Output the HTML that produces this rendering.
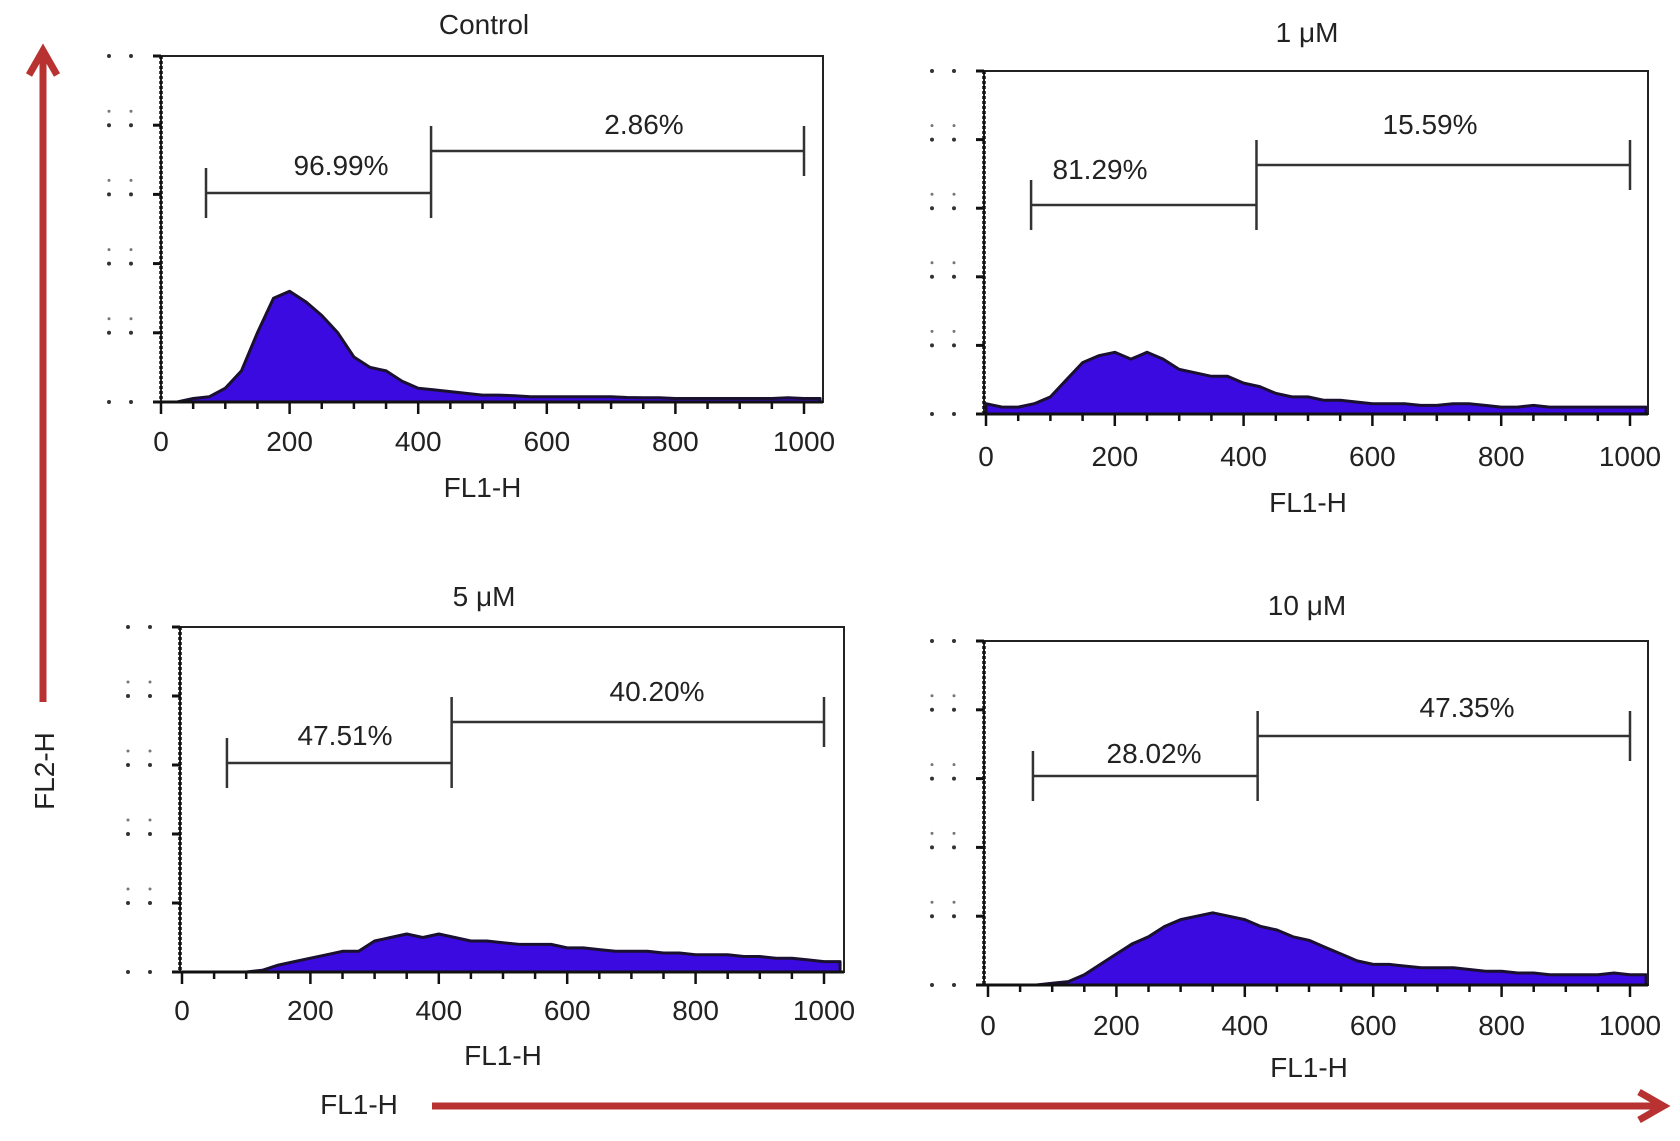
<!DOCTYPE html>
<html><head><meta charset="utf-8"><style>
html,body{margin:0;padding:0;background:#fff}
svg{display:block}
text{font-family:"Liberation Sans",sans-serif;fill:#222}
</style></head><body>
<svg id="chart" width="1680" height="1141" viewBox="0 0 1680 1141" xmlns="http://www.w3.org/2000/svg">
<defs>
<marker id="ah" viewBox="0 0 10 10" refX="7" refY="5" markerWidth="5" markerHeight="5" orient="auto"><path d="M1,1 L8,5 L1,9" fill="none" stroke="#b83232" stroke-width="2"/></marker>
</defs>
<line x1="43" y1="702" x2="43" y2="54" stroke="#b83232" stroke-width="7" marker-end="url(#ah)"/>
<line x1="432" y1="1106" x2="1660" y2="1106" stroke="#b83232" stroke-width="7" marker-end="url(#ah)"/>
<text transform="translate(54,771) rotate(-90)" text-anchor="middle" font-size="28">FL2-H</text>
<text x="359" y="1114" text-anchor="middle" font-size="28">FL1-H</text>
<g id="panels"></g>
</svg>
<script>
// bins: FL1-H channel 0..1025 step 25; values: % of plot height
const binStarts = [0,25,50,75,100,125,150,175,200,225,250,275,300,325,350,375,400,425,450,475,500,525,550,575,600,625,650,675,700,725,750,775,800,825,850,875,900,925,950,975,1000,1025];
const controlCounts = [0,0,1,1.5,4,9,20,30,32,29,25,20,13,10,9,6,4,3.5,3,2.5,2,2,1.8,1.5,1.5,1.5,1.5,1.5,1.5,1.3,1.2,1.2,1,1,1,1,1,1,1,1.2,1,1];
const uM1Counts = [3,2,2,3,5,10,15,17,18,16,18,16,13,12,11,11,9,8,6,5,5,4,4,3.5,3,3,3,2.5,2.5,3,3,2.5,2,2,2.5,2,2,2,2,2,2,2];
const uM5Counts = [0,0,0,0,0,0.5,2,3,4,5,6,6,9,10,11,10,11,10,9,9,8.5,8,8,8,7,7,6.5,6,6,6,5.5,5.5,5,5,5,4.5,4.5,4,4,3.5,3,3];
const uM10Counts = [0,0,0,0,0.5,1,3,6,9,12,14,17,19,20,21,20,19,17,16,14,13,11,9,7,6,6,5.5,5,5,5,4.5,4,4,3.5,3.5,3,3,3,3,3.5,3,3];
const panelTitles = ["Control","1 \u03bcM","5 \u03bcM","10 \u03bcM"];
const leftGateLabels = ["96.99%","81.29%","47.51%","28.02%"];
const rightGateLabels = ["2.86%","15.59%","40.20%","47.35%"];
const xTickLabels = ["0","200","400","600","800","1000"];
const xTickValues = [0,200,400,600,800,1000];
const gateStart = 70, gateSplit = 420, gateEnd = 1000;

const NS="http://www.w3.org/2000/svg";
const root=document.getElementById('panels');
function el(tag,attrs,parent){const e=document.createElementNS(NS,tag);for(const k in attrs)e.setAttribute(k,attrs[k]);(parent||root).appendChild(e);return e;}

const layout=[
 {L:161,R:823,T:56,B:402,x0:161,x1:804,title:[484,34],tick:451,lab:497,gl:193,gr:151,lt:[341,175],rt:[644,134]},
 {L:984,R:1648,T:71,B:414,x0:986,x1:1630,title:[1307,42],tick:466,lab:512,gl:205,gr:165,lt:[1100,179],rt:[1430,134]},
 {L:180,R:844,T:627,B:972,x0:182,x1:824,title:[484,606],tick:1020,lab:1065,gl:763,gr:722,lt:[345,745],rt:[657,701]},
 {L:984,R:1648,T:641,B:985,x0:988,x1:1630,title:[1307,615],tick:1035,lab:1077,gl:776,gr:736,lt:[1154,763],rt:[1467,717]}
];
const series=[controlCounts,uM1Counts,uM5Counts,uM10Counts];
const names=['control','1um','5um','10um'];

layout.forEach((p,i)=>{
 const g=el('g',{});
 
 
 const xs=v=>p.x0+(p.x1-p.x0)*v/1000;
 const ys=v=>p.B-(p.B-p.T)*v/100;
 let d='M'+xs(0)+','+p.B;
 series[i].forEach((v,j)=>{d+=' L'+xs(binStarts[j]).toFixed(1)+','+ys(v).toFixed(1);});
 d+=' L'+Math.min(p.R,xs(1025))+','+ys(series[i][series[i].length-1]).toFixed(1)+' L'+Math.min(p.R,xs(1025))+','+p.B+' Z';
 const h=el('path',{d:d,fill:'#3a0ae0',stroke:'#1a1030','stroke-width':3,'stroke-linejoin':'round'},g);
 
 
 const f=el('rect',{x:p.L,y:p.T,width:p.R-p.L,height:p.B-p.T,fill:'none',stroke:'#222','stroke-width':2},g);
 
 
 el('line',{x1:p.L,y1:p.T,x2:p.L,y2:p.B,stroke:'#111','stroke-width':3.5,'stroke-dasharray':'3 2'},g);
 el('line',{x1:p.L,y1:p.B,x2:p.R,y2:p.B,stroke:'#111','stroke-width':3},g);
 for(let k=0;k<=5;k++){const y=p.B-(p.B-p.T)*k/5;el('line',{x1:p.L-8,y1:y,x2:p.L,y2:y,stroke:'#111','stroke-width':3},g);
  el('circle',{cx:p.L-30,cy:y,r:2,fill:'#333'},g);el('circle',{cx:p.L-52,cy:y,r:2,fill:'#333'},g);
  if(k>0&&k<5){el('circle',{cx:p.L-30,cy:y-14,r:1.5,fill:'#777'},g);el('circle',{cx:p.L-52,cy:y-14,r:1.5,fill:'#777'},g);}}
 for(let v=0;v<=1000;v+=50){const x=xs(v);el('line',{x1:x,y1:p.B,x2:x,y2:p.B+(v%200===0?12:7),stroke:'#111','stroke-width':2.5},g);}
 xTickValues.forEach((v,k)=>{const t=el('text',{x:xs(v),y:p.tick,'text-anchor':'middle','font-size':28},g);t.textContent=xTickLabels[k];
  
  });
 const xl=el('text',{x:(p.x0+p.x1)/2,y:p.lab,'text-anchor':'middle','font-size':28},g);xl.textContent='FL1-H';
 
 
 const tt=el('text',{x:p.title[0],y:p.title[1],'text-anchor':'middle','font-size':28},g);tt.textContent=panelTitles[i];
 
 
 const gs=xs(gateStart),gm=xs(gateSplit),ge=xs(gateEnd);
 const st={stroke:'#333','stroke-width':2.5};
 const g1=el('line',Object.assign({x1:gs,y1:p.gl,x2:gm,y2:p.gl},st),g);
 
 
 el('line',Object.assign({x1:gs,y1:p.gl-25,x2:gs,y2:p.gl+25},st),g);
 el('line',Object.assign({x1:gm,y1:p.gr-25,x2:gm,y2:p.gl+25},st),g);
 const g2=el('line',Object.assign({x1:gm,y1:p.gr,x2:ge,y2:p.gr},st),g);
 
 
 el('line',Object.assign({x1:ge,y1:p.gr-25,x2:ge,y2:p.gr+25},st),g);
 const a=el('text',{x:p.lt[0],y:p.lt[1],'text-anchor':'middle','font-size':28},g);a.textContent=leftGateLabels[i];
 
 
 const b=el('text',{x:p.rt[0],y:p.rt[1],'text-anchor':'middle','font-size':28},g);b.textContent=rightGateLabels[i];
 
 
});
</script>
</body></html>
